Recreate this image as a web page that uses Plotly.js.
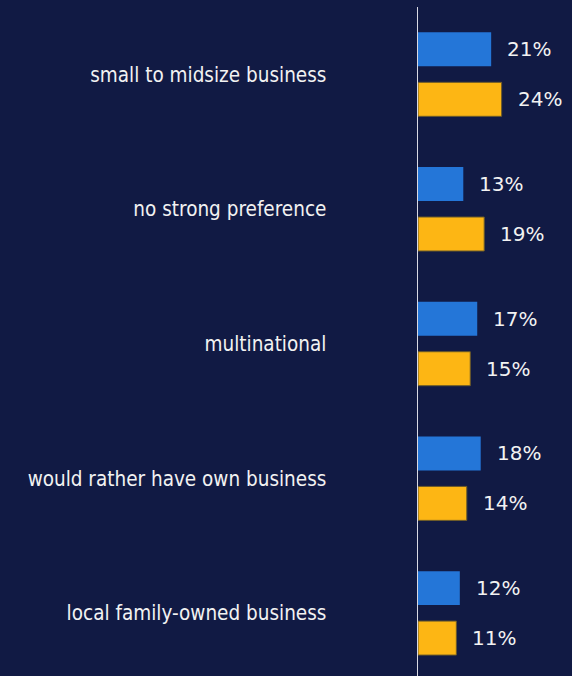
<!DOCTYPE html>
<html>
<head>
<meta charset="utf-8">
<script src="https://cdn.plot.ly/plotly-3.0.1.min.js"></script>
<style>html,body{margin:0;padding:0;background:#111a44;}#chart{width:572px;height:676px;}</style>
</head>
<body>
<div id="chart"></div>
<script>
const categories = ["small to midsize business", "no strong preference", "multinational", "would rather have own business", "local family-owned business"];
const seriesA = [21, 13, 17, 18, 12];
const seriesB = [24, 19, 15, 14, 11];
const seriesAName = "Series A";
const seriesBName = "Series B";

const blue = "#2476d8";
const gold = "#fdb614";
const bg = "#111a44";

const traces = [
  {type: "bar", orientation: "h", name: seriesAName, y: categories, x: seriesA,
   marker: {color: blue, line: {width: 0}}, hoverinfo: "skip"},
  {type: "bar", orientation: "h", name: seriesBName, y: categories, x: seriesB,
   marker: {color: gold, line: {width: 1, color: "#6b5a2a"}}, hoverinfo: "skip"}
];

const annotations = [];
categories.forEach((c, i) => {
  annotations.push({x: seriesA[i], y: c, text: seriesA[i] + "%", showarrow: false,
    xanchor: "left", yanchor: "middle", xshift: 14, yshift: 25,
    font: {family: "DejaVu Sans", size: 20, color: "#f2f2f2"}});
  annotations.push({x: seriesB[i], y: c, text: seriesB[i] + "%", showarrow: false,
    xanchor: "left", yanchor: "middle", xshift: 14, yshift: -25,
    font: {family: "DejaVu Sans", size: 20, color: "#f2f2f2"}});
});

const layout = {
  width: 572, height: 676,
  paper_bgcolor: bg, plot_bgcolor: bg,
  margin: {l: 418, r: 0, t: 7, b: 0},
  showlegend: false,
  barmode: "group",
  bargap: 0.258,
  bargroupgap: 0.32,
  xaxis: {range: [0, 44.2], visible: false, fixedrange: true},
  yaxis: {type: "category", autorange: false, range: [4.467, -0.5],
    showline: true, linecolor: "#d9d9e3", linewidth: 1.5,
    showgrid: false, zeroline: false,
    ticks: "outside", ticklen: 86, tickcolor: "rgba(0,0,0,0)",
    tickfont: {family: "DejaVu Sans Condensed", size: 20.5, color: "#f2f2f2"}},
  annotations: annotations
};

Plotly.newPlot("chart", traces, layout, {displayModeBar: false, staticPlot: true});
</script>
</body>
</html>
